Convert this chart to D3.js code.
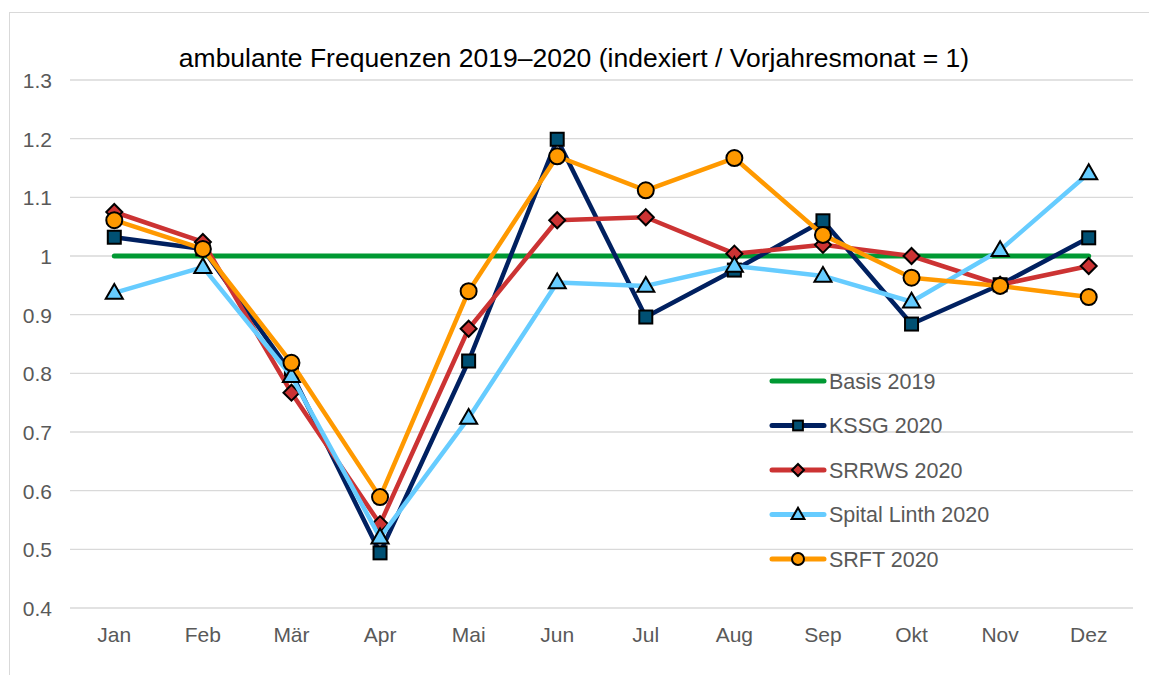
<!DOCTYPE html>
<html lang="de">
<head>
    <meta charset="UTF-8">
    <title>ambulante Frequenzen 2019–2020</title>
    <style>
        body{ margin:0; background:#fff; }
        text{ font-family: "Liberation Sans", Arial, sans-serif; }
    </style>
</head>
<body>
    <script src="https://cdn.jsdelivr.net/npm/d3@7"></script>
    <script>
        // donnees
        const monate = ["Jan","Feb","Mär","Apr","Mai","Jun","Jul","Aug","Sep","Okt","Nov","Dez"];
        const yTicks = [0.4,0.5,0.6,0.7,0.8,0.9,1,1.1,1.2,1.3];
        const basis2019 = [1,1,1,1,1,1,1,1,1,1,1,1];
        const kssg2020 = [1.032,1.012,0.80,0.494,0.821,1.199,0.896,0.976,1.06,0.884,0.951,1.031];
        const srrws2020 = [1.075,1.024,0.767,0.543,0.876,1.061,1.066,1.004,1.019,1.0,0.951,0.983];
        const linth2020 = [0.937,0.981,0.795,0.52,0.724,0.955,0.949,0.983,0.966,0.922,1.01,1.141];
        const srft2020 = [1.061,1.012,0.818,0.589,0.940,1.170,1.112,1.167,1.036,0.963,0.949,0.930];

        const series = [
            {name:"Basis 2019", values:basis2019, color:"#009933", marker:null},
            {name:"KSSG 2020", values:kssg2020, color:"#002060", marker:"square", fill:"#005073"},
            {name:"SRRWS 2020", values:srrws2020, color:"#CC3333", marker:"diamond", fill:"#CC3333"},
            {name:"Spital Linth 2020", values:linth2020, color:"#66CCFF", marker:"triangle", fill:"#66CCFF"},
            {name:"SRFT 2020", values:srft2020, color:"#FF9900", marker:"circle", fill:"#FF9900"}
        ];

        const W = 1149, H = 675;
        const svg = d3.select('body').append('svg')
            .attr('width',W).attr('height',H);

        // cadre
        svg.append('rect')
            .attr('x',9.5).attr('y',12.5)
            .attr('width',1180).attr('height',700)
            .attr('fill','none').attr('stroke','#d9d9d9').attr('stroke-width',1);

        const x = d3.scaleBand().domain(monate).range([70,1133]);
        const y = d3.scaleLinear().domain([0.4,1.3]).range([608,80]);

        // grille
        svg.append('g').selectAll('line')
            .data(yTicks)
            .enter()
            .append('line')
                .attr('x1',70).attr('x2',1133)
                .attr('y1',d => y(d)).attr('y2',d => y(d))
                .attr('stroke','#d9d9d9').attr('stroke-width',1.3);

        // axes
        const yAxis = svg.append('g')
            .attr('transform','translate(52,0)')
            .call(d3.axisLeft(y).tickValues(yTicks).tickSize(0).tickPadding(0).tickFormat(d => d3.format('')(d)));
        yAxis.select('.domain').remove();
        yAxis.selectAll('text')
            .attr('fill','#595959').style('font-size','21px')
            .attr('dy','0.35em');

        const xAxis = svg.append('g')
            .attr('transform','translate(0,608)')
            .call(d3.axisBottom(x).tickSize(0).tickPadding(19));
        xAxis.select('.domain').remove();
        xAxis.selectAll('text')
            .attr('fill','#595959').style('font-size','21px');

        // titre
        svg.append('text')
            .attr('x',574).attr('y',67)
            .attr('text-anchor','middle')
            .style('font-size','26.5px')
            .attr('fill','#000')
            .text('ambulante Frequenzen 2019–2020 (indexiert / Vorjahresmonat = 1)');

        const ligne = d3.line()
            .x((d,i) => x(monate[i]) + x.bandwidth()/2)
            .y(d => y(d));

        function dessineMarqueur(g, type, cx, cy, fill, scale){
            const s = scale || 1;
            if(type === 'square'){
                g.append('rect')
                    .attr('x',cx-6.5*s).attr('y',cy-6.5*s)
                    .attr('width',13*s).attr('height',13*s)
                    .attr('fill',fill).attr('stroke','#000').attr('stroke-width',2);
            } else if(type === 'diamond'){
                const r = 8*s;
                g.append('path')
                    .attr('d',`M${cx},${cy-r}L${cx+r},${cy}L${cx},${cy+r}L${cx-r},${cy}Z`)
                    .attr('fill',fill).attr('stroke','#000').attr('stroke-width',2);
            } else if(type === 'triangle'){
                const r = 9*s;
                g.append('path')
                    .attr('d',`M${cx},${cy-r}L${cx+r*0.95},${cy+r*0.65}L${cx-r*0.95},${cy+r*0.65}Z`)
                    .attr('fill',fill).attr('stroke','#000').attr('stroke-width',2);
            } else if(type === 'circle'){
                g.append('circle')
                    .attr('cx',cx).attr('cy',cy).attr('r',8*s)
                    .attr('fill',fill).attr('stroke','#000').attr('stroke-width',2);
            }
        }

        // series
        series.forEach(s => {
            const g = svg.append('g');
            g.append('path')
                .datum(s.values)
                .attr('d',ligne)
                .attr('fill','none')
                .attr('stroke',s.color)
                .attr('stroke-width',s.marker ? 4.5 : 5)
                .attr('stroke-linecap','round')
                .attr('stroke-linejoin','round');
            if(s.marker){
                s.values.forEach((v,i) => {
                    dessineMarqueur(g, s.marker, x(monate[i]) + x.bandwidth()/2, y(v), s.fill);
                });
            }
        });

        // legende
        const leg = svg.append('g');
        series.forEach((s,i) => {
            const ly = 381 + i*44.5;
            leg.append('line')
                .attr('x1',772).attr('x2',824)
                .attr('y1',ly).attr('y2',ly)
                .attr('stroke',s.color).attr('stroke-width',5)
                .attr('stroke-linecap','round');
            if(s.marker){
                dessineMarqueur(leg, s.marker, 798, ly, s.fill, 0.75);
            }
            leg.append('text')
                .attr('x',829).attr('y',ly)
                .attr('dy','0.35em')
                .attr('fill','#595959')
                .style('font-size','21.5px')
                .text(s.name);
        });
    </script>
</body>
</html>
